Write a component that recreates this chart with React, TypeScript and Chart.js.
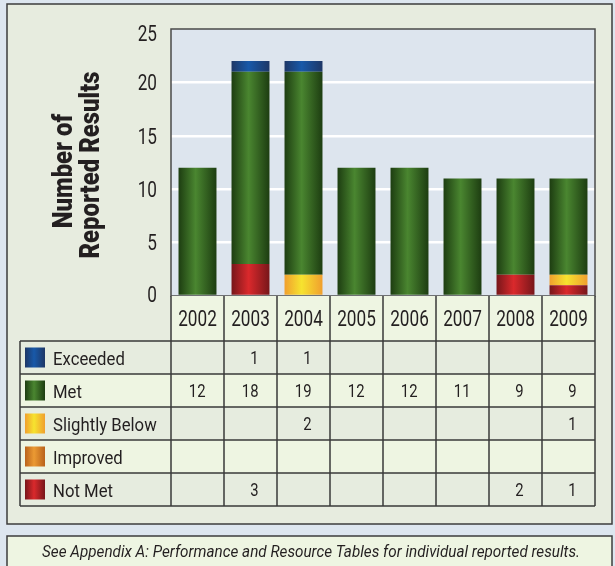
import React, { useEffect, useRef } from "react";
import { Chart, registerables } from "chart.js";

Chart.register(...registerables);

// ---------- data ----------
const years = ["2002", "2003", "2004", "2005", "2006", "2007", "2008", "2009"];
const exceeded = [0, 1, 1, 0, 0, 0, 0, 0];
const met = [12, 18, 19, 12, 12, 11, 9, 9];
const slightlyBelow = [0, 0, 2, 0, 0, 0, 0, 1];
const improved = [0, 0, 0, 0, 0, 0, 0, 0];
const notMet = [0, 3, 0, 0, 0, 0, 2, 1];
const yTicks = [0, 5, 10, 15, 20, 25];
const yTitleLines = ["Number of", "Reported Results"];
const footerText =
  "See Appendix A: Performance and Resource Tables for individual reported results.";

// ---------- styles ----------
const FONT = 'Roboto, "Liberation Sans", sans-serif';
const TEXT = "#231f20";
const BAR_FRACTION = 0.716;
const DIGIT_SX = 0.78;

type Series = { label: string; data: number[]; edge: string; mid: string };
// table order (top to bottom)
const tableSeries: Series[] = [
  { label: "Exceeded", data: exceeded, edge: "#1e3766", mid: "#1859a9" },
  { label: "Met", data: met, edge: "#1d3d11", mid: "#4a8630" },
  { label: "Slightly Below", data: slightlyBelow, edge: "#f09f2e", mid: "#f6e32f" },
  { label: "Improved", data: improved, edge: "#b9621b", mid: "#eb9a33" },
  { label: "Not Met", data: notMet, edge: "#77161a", mid: "#da292c" },
];
// stack order (bottom to top)
const stackSeries = [...tableSeries].reverse();

function hGrad(ctx: CanvasRenderingContext2D, x0: number, x1: number, s: Series) {
  const g = ctx.createLinearGradient(x0, 0, x1, 0);
  g.addColorStop(0, s.edge);
  g.addColorStop(0.45, s.mid);
  g.addColorStop(1, s.edge);
  return g;
}

function txt(
  ctx: CanvasRenderingContext2D,
  s: string,
  x: number,
  y: number,
  font: string,
  align: CanvasTextAlign,
  sx: number
) {
  ctx.save();
  ctx.font = font;
  ctx.textAlign = align;
  ctx.textBaseline = "alphabetic";
  ctx.fillStyle = TEXT;
  ctx.translate(x, y);
  ctx.scale(sx, 1);
  ctx.fillText(s, 0, 0);
  ctx.restore();
}

const HEADER_H = 45;
const ROW_H = 33;
const TABLE_LEFT = 20;

const framePlugin = {
  id: "frame",
  beforeDraw(chart: any) {
    const ctx = chart.ctx as CanvasRenderingContext2D;
    const a = chart.chartArea;
    ctx.save();
    ctx.fillStyle = "#dde6ef";
    ctx.fillRect(0, 0, chart.width, chart.height);
    // main panel
    ctx.fillStyle = "#e7ecdf";
    ctx.fillRect(7, 4, 605, 520);
    ctx.strokeStyle = "#3c3c3c";
    ctx.lineWidth = 1.5;
    ctx.strokeRect(7, 4, 605, 520);
    // footer panel
    ctx.fillStyle = "#eef5e2";
    ctx.fillRect(7, 536, 605, 40);
    ctx.strokeRect(7, 536, 605, 40);
    // plot background
    ctx.fillStyle = "#dde5ee";
    ctx.fillRect(a.left, a.top, a.right - a.left, a.bottom - a.top);
    ctx.restore();
  },
  afterDraw(chart: any) {
    const ctx = chart.ctx as CanvasRenderingContext2D;
    const a = chart.chartArea;
    const xs = chart.scales.x;
    const ys = chart.scales.y;
    const step = xs.getPixelForValue(1) - xs.getPixelForValue(0);
    const colL = (i: number) => xs.getPixelForValue(i) - step / 2;
    ctx.save();
    // plot border
    ctx.strokeStyle = "#4a4a4a";
    ctx.lineWidth = 1.5;
    ctx.strokeRect(a.left, a.top, a.right - a.left, a.bottom - a.top);

    // y tick labels
    yTicks.forEach((v) => {
      let cy = ys.getPixelForValue(v);
      cy = Math.max(cy, a.top + 4);
      cy = Math.min(cy, a.bottom - 1.5);
      txt(ctx, String(v), 157, cy + 7.8, `22px ${FONT}`, "right", DIGIT_SX);
    });

    const top = a.bottom;
    const rowsTop = top + HEADER_H;
    const bottom = rowsTop + ROW_H * tableSeries.length;

    // header cells
    ctx.fillStyle = "#eef5e2";
    ctx.fillRect(a.left, top, a.right - a.left, HEADER_H);
    // row backgrounds
    tableSeries.forEach((_, r) => {
      ctx.fillStyle = r % 2 === 0 ? "#e6ecdf" : "#eef5e2";
      ctx.fillRect(TABLE_LEFT, rowsTop + r * ROW_H, a.right - TABLE_LEFT, ROW_H);
    });

    // grid lines
    ctx.strokeStyle = "#3a3a3a";
    ctx.lineWidth = 1.5;
    ctx.beginPath();
    for (let i = 0; i <= years.length; i++) {
      const x = colL(i);
      ctx.moveTo(x, top);
      ctx.lineTo(x, bottom);
    }
    ctx.moveTo(TABLE_LEFT, rowsTop);
    ctx.lineTo(TABLE_LEFT, bottom);
    for (let r = 0; r <= tableSeries.length; r++) {
      const y = rowsTop + r * ROW_H;
      ctx.moveTo(TABLE_LEFT, y);
      ctx.lineTo(a.right, y);
    }
    ctx.stroke();

    // year headers
    years.forEach((y, i) => {
      txt(ctx, y, xs.getPixelForValue(i), top + 30, `22px ${FONT}`, "center", DIGIT_SX);
    });

    // legend + values
    tableSeries.forEach((s, r) => {
      const cy = rowsTop + r * ROW_H + ROW_H / 2;
      ctx.fillStyle = hGrad(ctx, 25, 45, s);
      ctx.fillRect(25, cy - 10, 20, 20);
      txt(ctx, s.label, 53, cy + 7, `19px ${FONT}`, "left", 0.88);
      s.data.forEach((v, i) => {
        if (v) txt(ctx, String(v), xs.getPixelForValue(i) + 8, cy + 6.5, `19px ${FONT}`, "right", DIGIT_SX);
      });
    });

    // y title
    ctx.save();
    const titleFont = `900 28px ${FONT}`;
    ctx.font = titleFont;
    const tsx = 187 / ctx.measureText(yTitleLines[1]).width;
    ctx.translate(0, 168);
    ctx.rotate(-Math.PI / 2);
    txt(ctx, yTitleLines[0], -3, 72, titleFont, "center", tsx);
    txt(ctx, yTitleLines[1], 3, 99, titleFont, "center", tsx);
    ctx.restore();

    // footer text
    const footFont = `italic 17px ${FONT}`;
    ctx.font = footFont;
    const fsx = 538 / ctx.measureText(footerText).width;
    txt(ctx, footerText, 311, 557, footFont, "center", fsx);
    ctx.restore();
  },
};

export default function App() {
  const ref = useRef<HTMLCanvasElement | null>(null);
  useEffect(() => {
    document.body.style.margin = "0";
    const canvas = ref.current!;
    const chart = new Chart(canvas, {
      type: "bar",
      data: {
        labels: years,
        datasets: stackSeries.map((s) => ({
          label: s.label,
          data: s.data,
          borderWidth: 0,
          categoryPercentage: 1,
          barPercentage: BAR_FRACTION,
          backgroundColor: (c: any) => {
            const ch = c.chart;
            const xs = ch.scales?.x;
            if (!ch.chartArea || !xs || c.dataIndex === undefined) return s.mid;
            const step = xs.getPixelForValue(1) - xs.getPixelForValue(0);
            const cx = xs.getPixelForValue(c.dataIndex);
            const w = step * BAR_FRACTION;
            return hGrad(ch.ctx, cx - w / 2, cx + w / 2, s);
          },
        })),
      },
      options: {
        responsive: false,
        animation: false,
        devicePixelRatio: 1,
        layout: { padding: { top: 29, bottom: 270, right: 20, left: 0 } },
        plugins: { legend: { display: false }, tooltip: { enabled: false } },
        scales: {
          x: { display: false, stacked: true, grid: { display: false } },
          y: {
            stacked: true,
            min: 0,
            max: 25,
            afterBuildTicks: (scale: any) => {
              scale.ticks = yTicks.map((v) => ({ value: v }));
            },
            afterFit: (scale: any) => {
              scale.width = 171;
            },
            ticks: { display: false },
            border: { display: false },
            grid: {
              drawTicks: false,
              lineWidth: 2.5,
              color: (c: any) =>
                c.tick && c.tick.value > 0 && c.tick.value < 25 ? "#ffffff" : "rgba(0,0,0,0)",
            },
          },
        },
      },
      plugins: [framePlugin],
    });
    return () => chart.destroy();
  }, []);
  return (
    <div style={{ position: "fixed", left: 0, top: 0 }}>
      <canvas ref={ref} width={615} height={566} style={{ display: "block" }} />
    </div>
  );
}
